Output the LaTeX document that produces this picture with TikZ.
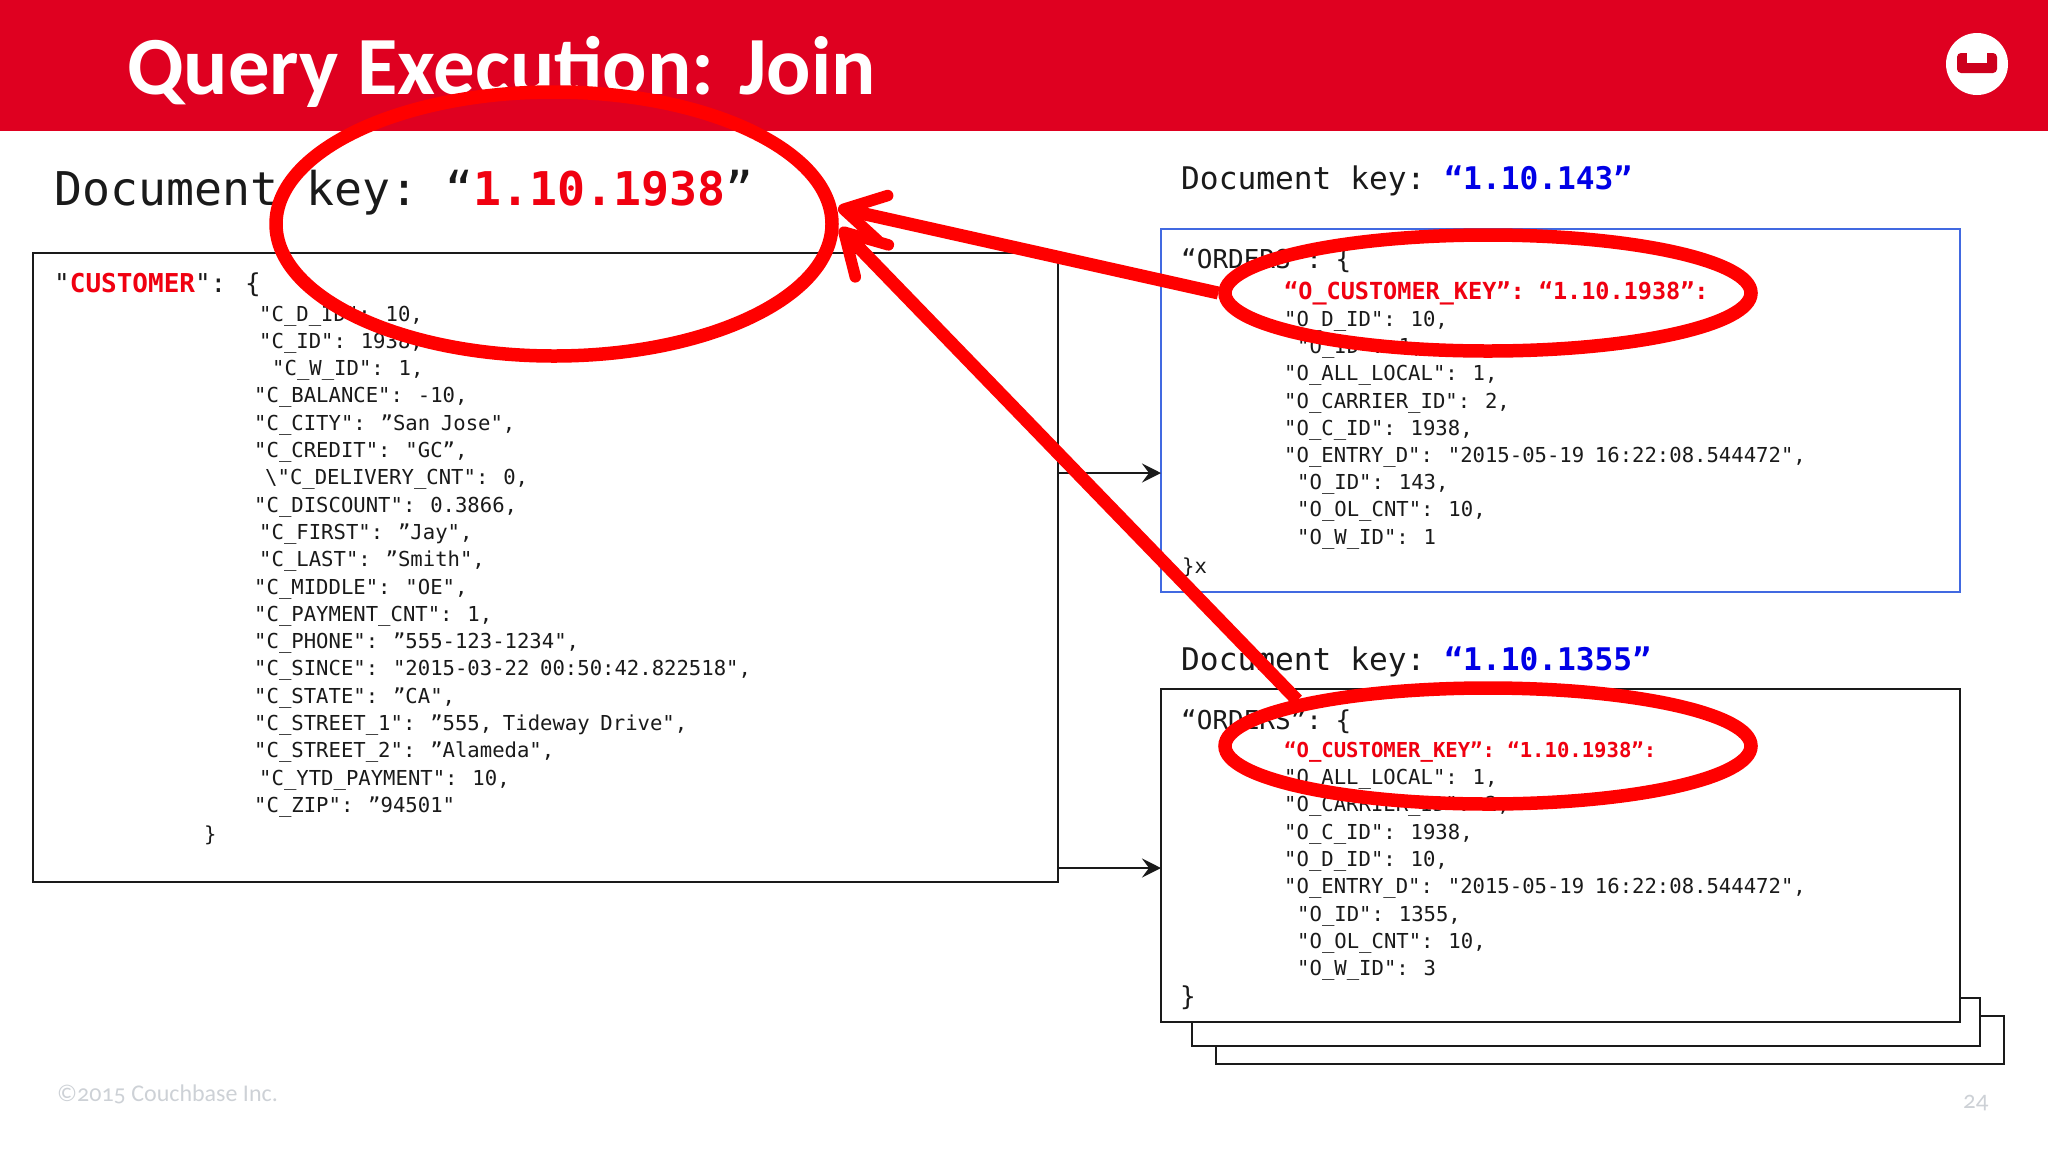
\documentclass[tikz,border=0pt]{standalone}
\usepackage{fontspec}
\setmainfont[Numbers=OldStyle]{Carlito}
\newfontfamily\codefont{DejaVu Sans Mono}
\usetikzlibrary{arrows.meta, positioning, shapes.geometric}
\definecolor{cbRed}{HTML}{DF0020}
\definecolor{cbInk}{HTML}{1A1A1A}
\definecolor{cbBlue}{HTML}{4169E1}
\definecolor{cbFoot}{HTML}{CDD1D6}
\definecolor{keyRed}{HTML}{F00010}
\definecolor{keyBlue}{HTML}{0000E6}
\newcommand{\codesize}[1]{\codefont\fontsize{#1}{#1}\selectfont}
\newcommand{\bodysize}[1]{\codefont\fontsize{#1}{#1}\selectfont\spaceskip=.52em\relax}
\tikzset{
  docbox/.style={draw=cbInk, fill=white, line width=2pt, anchor=north west, inner sep=0pt, outer sep=0pt},
  codeline/.style={anchor=base west, inner sep=0pt, text=cbInk, font=\bodysize{20.6}},
  keyline/.style={anchor=base west, inner sep=0pt, text=cbInk},
  ring/.style={draw=red, ellipse, line width=13.5pt, inner sep=0pt},
  pointer/.style={draw=red, line width=13pt, -{Straight Barb[length=40pt, width=46pt, line width=11.5pt, round]}},
  link/.style={draw=cbInk, line width=2.4pt, -{Stealth[length=19pt, width=19pt, inset=7pt]}}
}
\begin{document}
\begin{tikzpicture}[x=1pt, y=-1pt]
  \useasboundingbox (0,0) rectangle (2048,1152);
  \fill[cbRed] (0,0) rectangle (2048,131);
  \node[anchor=base west, inner sep=0pt, text=white, font=\fontsize{82.7}{82}\selectfont\bfseries] (title) at (127,94) {Query Execution: Join};
  \node[circle, fill=white, minimum size=62pt, inner sep=0pt] (logo) at (1977,64) {};
  \fill[cbRed!92!black, rounded corners=4pt] (1957,53) rectangle (1997,73);
  \fill[white] (1967,50) rectangle (1987,63);

  \node[docbox, minimum width=1025pt, minimum height=629pt] (customer) at (33,253) {};
  \node[docbox, draw=cbBlue, minimum width=799pt, minimum height=363pt] (ordersa) at (1161,229) {};
  \node[docbox, minimum width=788pt, minimum height=48pt] (stackc) at (1216,1016) {};
  \node[docbox, minimum width=788pt, minimum height=48pt] (stackb) at (1192,998) {};
  \node[docbox, minimum width=799pt, minimum height=333pt] (ordersb) at (1161,689) {};
  \draw[link] (customer.east |- 0,473) -- (ordersa.west |- 0,473);
  \draw[link] (customer.east |- 0,868) -- (ordersb.west |- 0,868);

  \node[keyline, font=\codesize{46.5}] (keymain) at (54,205) {Document key:\hspace{-10pt} “{\bfseries\color{keyRed}1.10.1938}”};
  \node[keyline, font=\codesize{31.2}] (keya) at (1181,189) {Document key:\hspace{-6pt} {\bfseries\color{keyBlue}“1.10.143”}};
  \node[keyline, font=\codesize{31.2}] (keyb) at (1181,670) {Document key:\hspace{-6pt} {\bfseries\color{keyBlue}“1.10.1355”}};

  \node[keyline, font=\bodysize{26}] (custhead) at (54,292) {"{\bfseries\color{keyRed}CUSTOMER}": \{};
  \foreach \xpos/\codetext [count=\i] in {
    259/{"C\_D\_ID": 10,},
    259/{"C\_ID": 1938,},
    272/{"C\_W\_ID": 1,},
    254/{"C\_BALANCE": -10,},
    254/{"C\_CITY": ”San Jose",},
    254/{"C\_CREDIT": "GC”,},
    265/{\textbackslash"C\_DELIVERY\_CNT": 0,},
    254/{"C\_DISCOUNT": 0.3866,},
    259/{"C\_FIRST": ”Jay",},
    259/{"C\_LAST": ”Smith",},
    254/{"C\_MIDDLE": "OE",},
    254/{"C\_PAYMENT\_CNT": 1,},
    254/{"C\_PHONE": ”555-123-1234",},
    254/{"C\_SINCE": "2015-03-22 00:50:42.822518",},
    254/{"C\_STATE": ”CA",},
    254/{"C\_STREET\_1": ”555, Tideway Drive",},
    254/{"C\_STREET\_2": ”Alameda",},
    259/{"C\_YTD\_PAYMENT": 10,},
    254/{"C\_ZIP": ”94501"}}
    \node[codeline] (cust\i) at (\xpos, {321+27.3*(\i-1)}) {\codetext};
  \node[codeline] (custend) at (204,841) {\}};

  \node[keyline, font=\bodysize{26}] (ordahead) at (1181,268) {“ORDERS”: \{};
  \node[keyline, text=keyRed, font=\codesize{23.5}\bfseries] (ordakey) at (1284,299) {“O\_CUSTOMER\_KEY”: “1.10.1938”:};
  \foreach \xpos/\codetext [count=\i] in {
    1284/{"O\_D\_ID": 10,},
    1297/{"O\_ID": 1,},
    1284/{"O\_ALL\_LOCAL": 1,},
    1284/{"O\_CARRIER\_ID": 2,},
    1284/{"O\_C\_ID": 1938,},
    1284/{"O\_ENTRY\_D": "2015-05-19 16:22:08.544472",},
    1297/{"O\_ID": 143,},
    1297/{"O\_OL\_CNT": 10,},
    1297/{"O\_W\_ID": 1}}
    \node[codeline] (orda\i) at (\xpos, {326.5+27.2*(\i-1)}) {\codetext};
  \node[codeline] (ordaend) at (1182,573) {\}x};

  \node[keyline, font=\bodysize{26}] (ordbhead) at (1181,729) {“ORDERS”: \{};
  \node[keyline, text=keyRed, font=\codesize{20.6}\bfseries] (ordbkey) at (1284,757) {“O\_CUSTOMER\_KEY”: “1.10.1938”:};
  \foreach \xpos/\codetext [count=\i] in {
    1284/{"O\_ALL\_LOCAL": 1,},
    1284/{"O\_CARRIER\_ID": 2,},
    1284/{"O\_C\_ID": 1938,},
    1284/{"O\_D\_ID": 10,},
    1284/{"O\_ENTRY\_D": "2015-05-19 16:22:08.544472",},
    1297/{"O\_ID": 1355,},
    1297/{"O\_OL\_CNT": 10,},
    1297/{"O\_W\_ID": 3}}
    \node[codeline] (ordb\i) at (\xpos, {784.6+27.3*(\i-1)}) {\codetext};
  \node[keyline, font=\bodysize{26}] (ordbend) at (1180,1005) {\}};

  \node[anchor=base west, inner sep=0pt, text=cbFoot, font=\fontsize{24}{24}\selectfont] (copyright) at (57,1101) {©2015 Couchbase Inc.};
  \node[anchor=base west, inner sep=0pt, text=cbFoot, font=\fontsize{25}{25}\selectfont] (pagenum) at (1963,1108) {24};

  \node[ring, minimum width=556pt, minimum height=264pt] (ringmain) at (554,224) {};
  \node[ring, minimum width=526pt, minimum height=116pt] (ringa) at (1488,293) {};
  \node[ring, minimum width=526pt, minimum height=116pt] (ringb) at (1488,746) {};
  \coordinate (tipa) at (838,208);
  \coordinate (tipb) at (840,228);
  \draw[pointer] (ringa.west) -- (tipa);
  \draw[pointer] (ringb.north west) -- (tipb);
\end{tikzpicture}
\end{document}
